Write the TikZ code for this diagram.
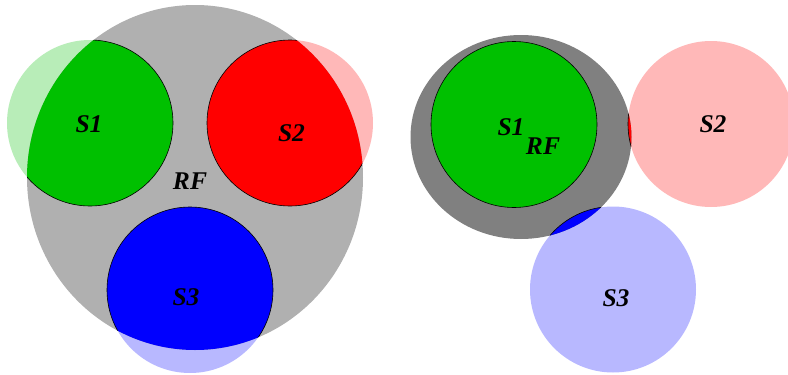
\documentclass[tikz,border=0pt]{standalone}
\usepackage{fontspec}
\setmainfont{Liberation Serif}
\definecolor{sgreen}{RGB}{0,192,0}
\definecolor{sred}{RGB}{255,0,0}
\definecolor{sblue}{RGB}{0,0,255}
\definecolor{lgreen}{RGB}{184,237,184}
\definecolor{lred}{RGB}{255,184,184}
\definecolor{lblue}{RGB}{184,184,255}
\definecolor{rfleft}{RGB}{176,176,176}
\definecolor{rfright}{RGB}{128,128,128}
\begin{document}
\begin{tikzpicture}[x=1pt,y=-1pt,
  lbl/.style={font=\fontsize{25.5}{30}\selectfont\bfseries\itshape, inner sep=0pt},
  strong/.style={draw=black, line width=0.6pt}]
\useasboundingbox (0,0) rectangle (788,375);
% ---------- left diagram ----------
\coordinate (LS1) at (90,123);
\coordinate (LS2) at (290,123);
\coordinate (LS3) at (190,290);
\coordinate (LRF) at (195,177.5);
\fill[lgreen] (LS1) circle (83);
\fill[lred] (LS2) circle (83);
\fill[lblue] (LS3) circle (83);
\fill[rfleft] (LRF) ellipse (168 and 172.5);
\begin{scope}
  \clip (LRF) ellipse (168 and 172.5);
  \fill[sgreen, strong] (LS1) circle (83);
  \fill[sred, strong] (LS2) circle (83);
  \fill[sblue, strong] (LS3) circle (83);
\end{scope}
\node[lbl] (lt1) at (89,124.5) {S1};
\node[lbl] (lt2) at (291.5,133) {S2};
\node[lbl] (lt3) at (186,297) {S3};
\node[lbl] (ltrf) at (190,181.5) {RF};
% ---------- right diagram ----------
\coordinate (RS1) at (514,124.5);
\coordinate (RS2) at (711,124);
\coordinate (RS3) at (613,289.5);
\coordinate (RRF) at (521,137);
\fill[lgreen] (RS1) circle (83);
\fill[lred] (RS2) circle (83);
\fill[lblue] (RS3) circle (83);
\fill[rfright] (RRF) ellipse (110.5 and 102);
\begin{scope}
  \clip (RRF) ellipse (110.5 and 102);
  \fill[sgreen, strong] (RS1) circle (83);
  \fill[sred, strong] (RS2) circle (83);
  \fill[sblue, strong] (RS3) circle (83);
\end{scope}
\node[lbl] (rt1) at (511,127) {S1};
\node[lbl] (rt2) at (713,124.5) {S2};
\node[lbl] (rt3) at (616,298) {S3};
\node[lbl] (rtrf) at (543,146) {RF};
\end{tikzpicture}
\end{document}
